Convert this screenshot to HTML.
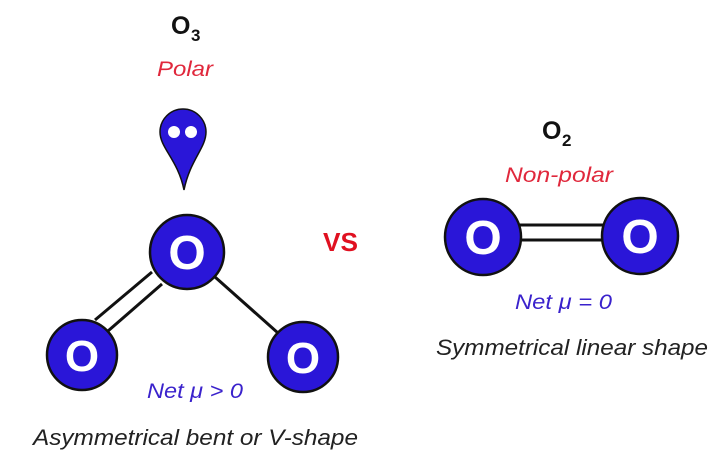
<!DOCTYPE html>
<html><head><style>
html,body{margin:0;padding:0;background:#fff;}
svg{display:block;}
</style></head><body>
<svg width="720" height="457" viewBox="0 0 720 457" xmlns="http://www.w3.org/2000/svg">
<g font-family="Liberation Sans, sans-serif">
<!-- O3 title -->
<text x="171" y="34" font-size="25" font-weight="bold" fill="#111">O</text>
<text x="191" y="41" font-size="17" font-weight="bold" fill="#111">3</text>
<text x="157" y="76" font-size="21" font-style="italic" fill="#e0283c" textLength="56" lengthAdjust="spacingAndGlyphs">Polar</text>
<!-- lone pair -->
<path d="M160,132 A23,23 0 1 1 206,132 C206,148 190,160 184,190 C178,160 160,148 160,132 Z" fill="#2a16d8" stroke="#111" stroke-width="1.5"/>
<circle cx="174" cy="132" r="6" fill="#fff"/>
<circle cx="191" cy="132" r="6" fill="#fff"/>
<!-- bonds -->
<line x1="152" y1="272" x2="95" y2="320" stroke="#111" stroke-width="3"/>
<line x1="162" y1="284" x2="108" y2="331" stroke="#111" stroke-width="3"/>
<line x1="215" y1="277" x2="278" y2="333" stroke="#111" stroke-width="3"/>
<!-- atoms -->
<circle cx="187" cy="252" r="37" fill="#2a16d8" stroke="#111" stroke-width="2.5"/>
<text x="187" y="269" font-size="48" font-weight="bold" fill="#fff" text-anchor="middle">O</text>
<circle cx="82" cy="355" r="35" fill="#2a16d8" stroke="#111" stroke-width="2.5"/>
<text x="82" y="371" font-size="44" font-weight="bold" fill="#fff" text-anchor="middle">O</text>
<circle cx="303" cy="357" r="35" fill="#2a16d8" stroke="#111" stroke-width="2.5"/>
<text x="303" y="373" font-size="44" font-weight="bold" fill="#fff" text-anchor="middle">O</text>
<text x="147" y="398" font-size="21" font-style="italic" fill="#3a22cc" textLength="96" lengthAdjust="spacingAndGlyphs">Net μ &gt; 0</text>
<text x="33" y="445" font-size="22" font-style="italic" fill="#222" textLength="325" lengthAdjust="spacingAndGlyphs">Asymmetrical bent or V-shape</text>
<!-- VS -->
<text x="323" y="251" font-size="26" font-weight="bold" fill="#e01020" textLength="35" lengthAdjust="spacingAndGlyphs">VS</text>
<!-- O2 -->
<text x="542" y="139" font-size="25" font-weight="bold" fill="#111">O</text>
<text x="562" y="146" font-size="17" font-weight="bold" fill="#111">2</text>
<text x="505" y="182" font-size="21" font-style="italic" fill="#e0283c" textLength="108" lengthAdjust="spacingAndGlyphs">Non-polar</text>
<line x1="515" y1="225" x2="608" y2="225" stroke="#111" stroke-width="3"/>
<line x1="515" y1="240" x2="608" y2="240" stroke="#111" stroke-width="3"/>
<circle cx="483" cy="237" r="38" fill="#2a16d8" stroke="#111" stroke-width="2.5"/>
<text x="483" y="254" font-size="48" font-weight="bold" fill="#fff" text-anchor="middle">O</text>
<circle cx="640" cy="236" r="38" fill="#2a16d8" stroke="#111" stroke-width="2.5"/>
<text x="640" y="253" font-size="48" font-weight="bold" fill="#fff" text-anchor="middle">O</text>
<text x="515" y="309" font-size="21" font-style="italic" fill="#3a22cc" textLength="97" lengthAdjust="spacingAndGlyphs">Net μ = 0</text>
<text x="436" y="355" font-size="22" font-style="italic" fill="#222" textLength="272" lengthAdjust="spacingAndGlyphs">Symmetrical linear shape</text>
</g>
</svg>
</body></html>
